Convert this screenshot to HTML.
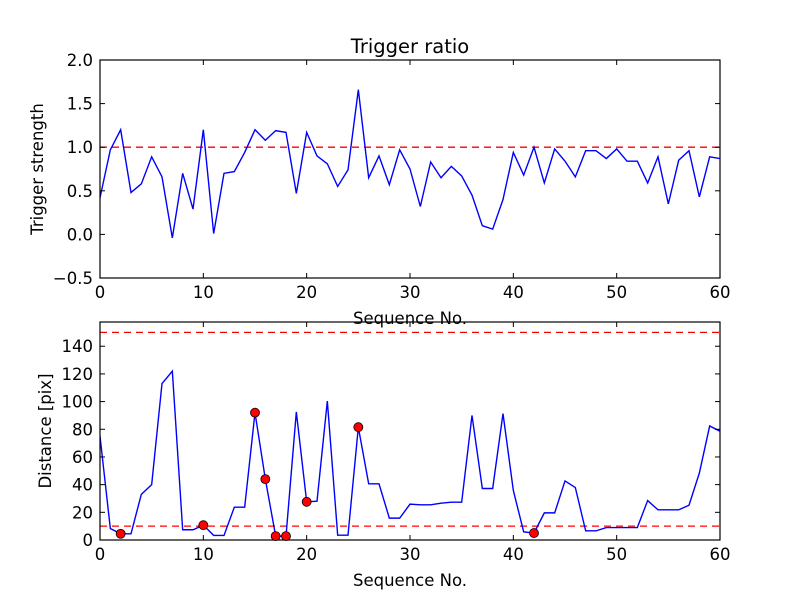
<!DOCTYPE html>
<html><head><meta charset="utf-8"><style>
body{margin:0;background:#fff;}
svg{display:block;font-family:"DejaVu Sans","Liberation Sans",sans-serif;}
</style></head><body>
<svg id="chart" width="800" height="600" viewBox="0 0 800 600">
<rect width="800" height="600" fill="#fff"/>
</svg>
<script>
const seqTop = [0.42,0.97,1.20,0.48,0.58,0.89,0.66,-0.04,0.70,0.29,1.20,0.01,0.70,0.72,0.94,1.20,1.08,1.19,1.17,0.47,1.17,0.90,0.81,0.55,0.74,1.66,0.65,0.90,0.57,0.97,0.75,0.32,0.83,0.65,0.78,0.67,0.45,0.10,0.06,0.40,0.94,0.68,1.00,0.59,0.98,0.84,0.66,0.96,0.96,0.87,0.98,0.84,0.84,0.59,0.89,0.35,0.85,0.96,0.43,0.89,0.87];
const distance = [75,8.3,4.5,4.5,33,40,113,122,7.4,7.4,10.7,3.3,3.3,23.7,23.7,92,44,2.8,2.8,92.5,27.6,28,100.4,3.5,3.5,81.5,40.6,40.6,15.8,15.8,25.9,25.4,25.4,26.6,27.3,27.3,90,37.2,37.2,91.3,35.8,5.9,5.0,19.6,19.6,42.7,37.9,6.6,6.6,9,9,9,9,28.5,21.8,21.8,21.8,25.1,48.3,82.4,78.6];
const flagged = [2,10,15,16,17,18,20,25,42];
const topThreshold = [1.0];
const botThresholds = [10,150];
const xTicks = [0,10,20,30,40,50,60];
const topYTicks = [-0.5,0,0.5,1.0,1.5,2.0];
const botYTicks = [0,20,40,60,80,100,120,140];

const NS="http://www.w3.org/2000/svg";
const svg=document.getElementById('chart');
function el(tag,attrs,parent){const e=document.createElementNS(NS,tag);for(const k in attrs)e.setAttribute(k,attrs[k]);(parent||svg).appendChild(e);return e;}
const L=100,R=720,FS=16.5;
const xS=v=>L+(v-0)/(60-0)*(R-L);
function fmt(v,d){return (v<0?'\u2212':'')+Math.abs(v).toFixed(d);}

function panel(name,top,bot,ymin,ymax,yticks,dec,data,thr,ylabel,xlabel,ylx){
  const yS=v=>bot-(v-ymin)/(ymax-ymin)*(bot-top);
  const g=el('g',{});
  
  
  const cp='clip-'+name;
  const c=el('clipPath',{id:cp},g);el('rect',{x:L,y:top,width:R-L,height:bot-top},c);
  thr.forEach(t=>{const ln=el('line',{x1:L,x2:R,y1:yS(t),y2:yS(t),stroke:'#ff0000','stroke-width':1.3,'stroke-dasharray':'7,5'},g);
    
    });
  const pts=data.map((v,i)=>xS(i).toFixed(2)+','+yS(v).toFixed(2)).join(' ');
  const pl=el('polyline',{points:pts,fill:'none',stroke:'#0000ff','stroke-width':1.4,'clip-path':'url(#'+cp+')'},g);
  
  
  el('rect',{x:L,y:top,width:R-L,height:bot-top,fill:'none',stroke:'#000','stroke-width':1.2},g);
  xTicks.forEach(t=>{const x=xS(t);
    el('line',{x1:x,x2:x,y1:bot,y2:bot-5,stroke:'#000'},g);
    el('line',{x1:x,x2:x,y1:top,y2:top+5,stroke:'#000'},g);
    const tx=el('text',{x:x,y:bot+20,'font-size':FS,'text-anchor':'middle'},g);tx.textContent=t;
    
    });
  yticks.forEach(t=>{const y=yS(t);
    el('line',{x1:L,x2:L+5,y1:y,y2:y,stroke:'#000'},g);
    el('line',{x1:R,x2:R-5,y1:y,y2:y,stroke:'#000'},g);
    const tx=el('text',{x:L-7,y:y+6,'font-size':FS,'text-anchor':'end'},g);tx.textContent=fmt(t,dec);
    
    });
  const yl=el('text',{x:0,y:0,'font-size':FS,'text-anchor':'middle',transform:'translate('+ylx+','+((top+bot)/2)+') rotate(-90)'},g);yl.textContent=ylabel;
  
  
  const xl=el('text',{x:(L+R)/2,y:bot+46,'font-size':FS,'text-anchor':'middle'},g);xl.textContent=xlabel;
  
  
  return yS;
}
panel('top',60,278,-0.5,2.0,topYTicks,1,seqTop,topThreshold,'Trigger strength','Sequence No.',43);
const yB=panel('bottom',322,540,0,157.5,botYTicks,0,distance,botThresholds,'Distance [pix]','Sequence No.',51);
flagged.forEach(i=>{const d=el('circle',{cx:xS(i),cy:yB(distance[i]),r:4.5,fill:'#ff0000',stroke:'#000','stroke-width':0.8});
  
  });
const title=el('text',{x:410,y:53,'font-size':19.5,'text-anchor':'middle'});
title.textContent='Trigger ratio';


</script>
</body></html>
